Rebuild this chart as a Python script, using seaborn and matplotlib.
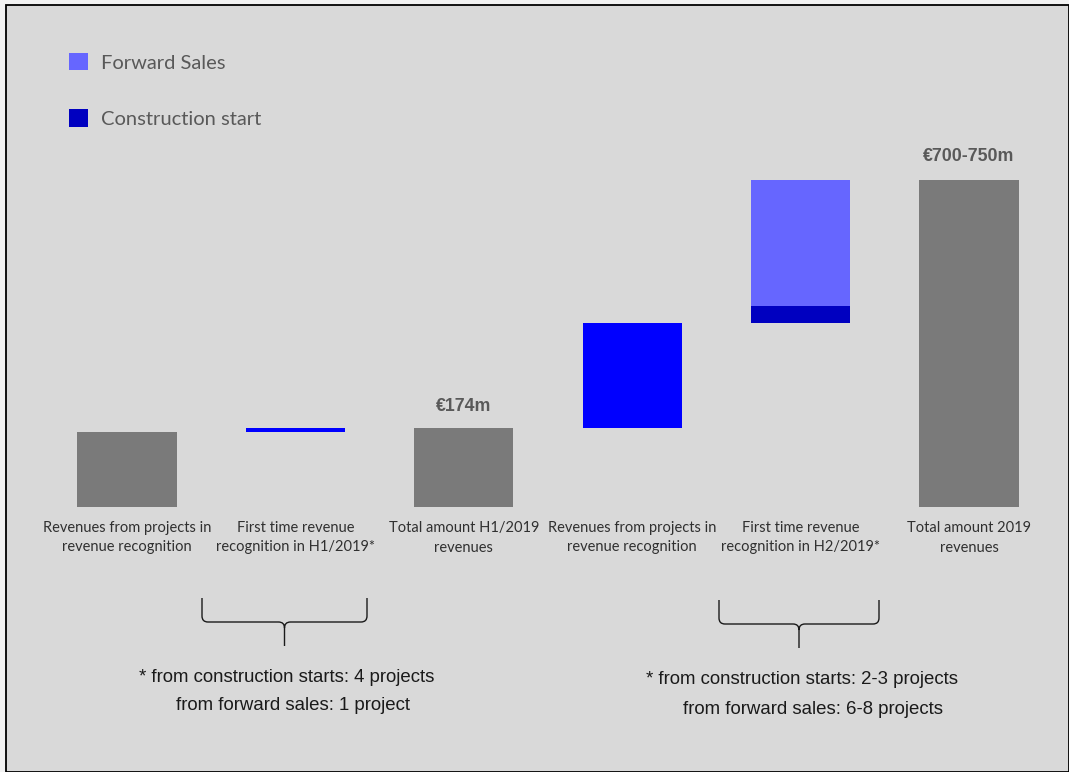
import matplotlib
matplotlib.use("Agg")
import matplotlib.pyplot as plt
import seaborn as sns
import pandas as pd
from matplotlib.patches import Rectangle, Patch, PathPatch
from matplotlib.path import Path

# ---------------- data ----------------
keys = ["h1_rec", "h1_first", "h1_total", "h2_rec", "h2_first", "total"]
labels = ["Revenues from projects in\nrevenue recognition",
          "First time revenue\nrecognition in H1/2019*",
          "Total amount H1/2019\nrevenues",
          "Revenues from projects in\nrevenue recognition",
          "First time revenue\nrecognition in H2/2019*",
          "Total amount 2019\nrevenues"]
h1_recognition = 165
h1_first_time = 9
h1_total = 174
h2_recognition = 231
h2_construction = 37
h2_forward = 278
total_2019 = 720
value_labels = {"h1_total": "€174m", "total": "€700-750m"}
legend_labels = ["Forward Sales", "Construction start"]
notes_left = ["* from construction starts: 4 projects", "from forward sales: 1 project"]
notes_right = ["* from construction starts: 2-3 projects", "from forward sales: 6-8 projects"]

GRAY = "#7a7a7a"
BLUE = "#0000ff"
DARK = "#0000c0"
LIGHT = "#6666ff"
TXT = "#595959"

sns.set_theme(style="white")
plt.rcParams['font.family'] = ['Lato', 'DejaVu Sans']

W, H = 1069, 772
fig = plt.figure(figsize=(W / 100, H / 100), dpi=100)
fig.patch.set_facecolor("#f2f2f2")
fig.patches.append(Rectangle((6 / W, 0), 1 - 6 / W, 1 - 5 / H, transform=fig.transFigure,
                             facecolor="#d9d9d9", edgecolor="black", linewidth=1.3, zorder=-5))

ax = fig.add_axes([0, 0, 1, 1])
ax.set_facecolor("none")

totals = pd.DataFrame({"key": ["h1_rec", "h1_total", "total"],
                       "value": [h1_recognition, h1_total, total_2019]})
BW = 0.59
sns.barplot(data=totals, x="key", y="value", order=keys, color=GRAY, width=BW,
            linewidth=0, saturation=1, ax=ax)

ax.bar(keys.index("h1_first"), h1_first_time, bottom=h1_recognition, width=BW, color=BLUE, linewidth=0)
ax.bar(keys.index("h2_rec"), h2_recognition, bottom=h1_total, width=BW, color=BLUE, linewidth=0)
ax.bar(keys.index("h2_first"), h2_construction, bottom=h1_total + h2_recognition, width=BW, color=DARK, linewidth=0)
ax.bar(keys.index("h2_first"), h2_forward, bottom=h1_total + h2_recognition + h2_construction,
       width=BW, color=LIGHT, linewidth=0)

step = 168.4
x0 = 127
ppm = 79 / 174  # pixels per €m
base = 507
ax.set_xlim(-x0 / step, (W - x0) / step)
ax.set_ylim(-(H - base) / ppm, base / ppm)
ax.axis("off")

# category labels
for i, lab in enumerate(labels):
    ax.text(i, -14 / ppm, lab, ha="center", va="top", fontsize=10.5, color="#303030",
            linespacing=1.5)

# value labels
vf = dict(ha="center", va="center", fontsize=12.8, fontweight="bold", color=TXT,
          family=["Liberation Sans", "DejaVu Sans"])
ax.text(keys.index("h1_total"), h1_total + 21 / ppm, value_labels["h1_total"], **vf)
ax.text(keys.index("total"), total_2019 + 24 / ppm, value_labels["total"], **vf)

# legend
handles = [Patch(facecolor=LIGHT, edgecolor="none"), Patch(facecolor=DARK, edgecolor="none")]
leg = fig.legend(handles, legend_labels, loc="upper left", bbox_to_anchor=(69 / W, 1 - 53 / H),
                 frameon=False, fontsize=14.5, handlelength=0.95, handleheight=0.95,
                 handletextpad=0.62, labelspacing=1.87, borderpad=0, borderaxespad=0)
for t in leg.get_texts():
    t.set_color(TXT)

# overlay in pixel coordinates for braces and notes
ov = fig.add_axes([0, 0, 1, 1])
ov.set_xlim(0, W)
ov.set_ylim(H, 0)
ov.axis("off")
ov.set_facecolor("none")


def brace(xl, xr, ytop, ymid, ytip):
    xc = (xl + xr) / 2
    r = 6
    verts = [(xl, ytop), (xl, ymid - r), (xl, ymid), (xl + r, ymid), (xc - r, ymid),
             (xc, ymid), (xc, ymid + r), (xc, ytip),
             (xc, ymid + r), (xc, ymid), (xc + r, ymid), (xr - r, ymid), (xr, ymid), (xr, ymid - r),
             (xr, ytop)]
    codes = [Path.MOVETO, Path.LINETO, Path.CURVE3, Path.CURVE3, Path.LINETO,
             Path.CURVE3, Path.CURVE3, Path.LINETO,
             Path.MOVETO, Path.CURVE3, Path.CURVE3, Path.LINETO, Path.CURVE3, Path.CURVE3,
             Path.LINETO]
    ov.add_patch(PathPatch(Path(verts, codes), facecolor="none", edgecolor="#1a1a1a", linewidth=1.0))


brace(202, 367, 598, 622, 646)
brace(719, 879, 600, 624, 648)

nf = dict(fontsize=13.4, color="#1a1a1a", va="center", family=["Liberation Sans", "DejaVu Sans"])
ov.text(139, 677, notes_left[0], ha="left", **nf)
ov.text(176, 706, notes_left[1], ha="left", **nf)
ov.text(646, 679, notes_right[0], ha="left", **nf)
ov.text(683, 709, notes_right[1], ha="left", **nf)

fig.savefig("out.png", dpi=100, facecolor=fig.get_facecolor())
